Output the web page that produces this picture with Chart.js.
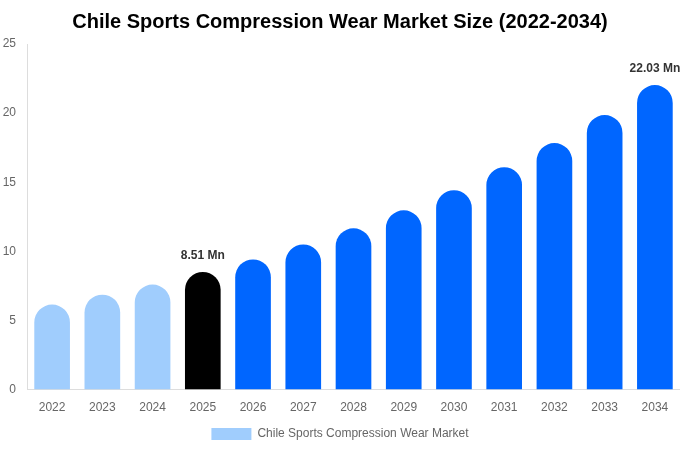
<!DOCTYPE html>
<html>
<head>
<meta charset="utf-8">
<script src="https://cdn.jsdelivr.net/npm/chart.js@4.4.0/dist/chart.umd.min.js"></script>
<style>
  html, body { margin: 0; padding: 0; background: #fff; }
  #wrap { width: 680px; height: 450px; }
</style>
</head>
<body>
<div id="wrap"><canvas id="grafico"></canvas></div>
<script>
const years = ['2022', '2023', '2024', '2025', '2026', '2027', '2028', '2029', '2030', '2031', '2032', '2033', '2034'];
const marketSize = [6.15, 6.87, 7.6, 8.51, 9.42, 10.5, 11.67, 12.97, 14.42, 16.09, 17.83, 19.86, 22.03];
const labelled = { 3: '8.51 Mn', 12: '22.03 Mn' };

const colores = marketSize.map((v, i) => i < 3 ? '#A0CDFD' : (i === 3 ? '#000000' : '#0066FF'));

const etiquetas = {
    id: 'etiquetas',
    afterDatasetsDraw(chart) {
        const ctx = chart.ctx;
        const meta = chart.getDatasetMeta(0);
        ctx.save();
        ctx.font = 'bold 12px "Liberation Sans", Arial, sans-serif';
        ctx.fillStyle = '#333333';
        ctx.textAlign = 'center';
        ctx.textBaseline = 'bottom';
        Object.keys(labelled).forEach(i => {
            const bar = meta.data[i];
            ctx.fillText(labelled[i], bar.x, bar.y - 10);
        });
        ctx.restore();
    }
};

Chart.defaults.font.family = '"Liberation Sans", Arial, sans-serif';
Chart.defaults.color = '#666666';

new Chart(document.getElementById('grafico').getContext('2d'), {
    type: 'bar',
    data: {
        labels: years,
        datasets: [{
            label: 'Chile Sports Compression Wear Market',
            data: marketSize,
            backgroundColor: colores,
            borderRadius: { topLeft: 18, topRight: 18 },
            borderSkipped: false,
            barPercentage: 0.71,
            categoryPercentage: 1
        }]
    },
    options: {
        responsive: true,
        maintainAspectRatio: false,
        animation: false,
        layout: { padding: { left: 0, right: 0, top: 0, bottom: 0 } },
        scales: {
            x: {
                grid: { display: false, drawTicks: false },
                border: { display: true, color: '#dddddd' },
                ticks: { font: { size: 12 }, color: '#666666', padding: 11 }
            },
            y: {
                min: 0,
                max: 25,
                grid: { display: false, drawTicks: false },
                border: { display: true, color: '#dddddd' },
                ticks: { stepSize: 5, font: { size: 12 }, color: '#666666', padding: 11 },
                afterFit: axis => { axis.width = 27; }
            }
        },
        plugins: {
            title: {
                display: true,
                text: 'Chile Sports Compression Wear Market Size (2022-2034)',
                color: '#000000',
                font: { size: 20, weight: 'bold' },
                padding: { top: 10, bottom: 10 }
            },
            legend: {
                display: true,
                position: 'bottom',
                labels: {
                    boxWidth: 40,
                    boxHeight: 12,
                    padding: 2,
                    color: '#666666',
                    font: { size: 12 },
                    generateLabels: () => [{
                        text: 'Chile Sports Compression Wear Market',
                        fillStyle: '#A0CDFD',
                        strokeStyle: '#A0CDFD',
                        lineWidth: 0,
                        fontColor: '#666666'
                    }]
                }
            },
            tooltip: { enabled: false }
        }
    },
    plugins: [etiquetas]
});
</script>
</body>
</html>
